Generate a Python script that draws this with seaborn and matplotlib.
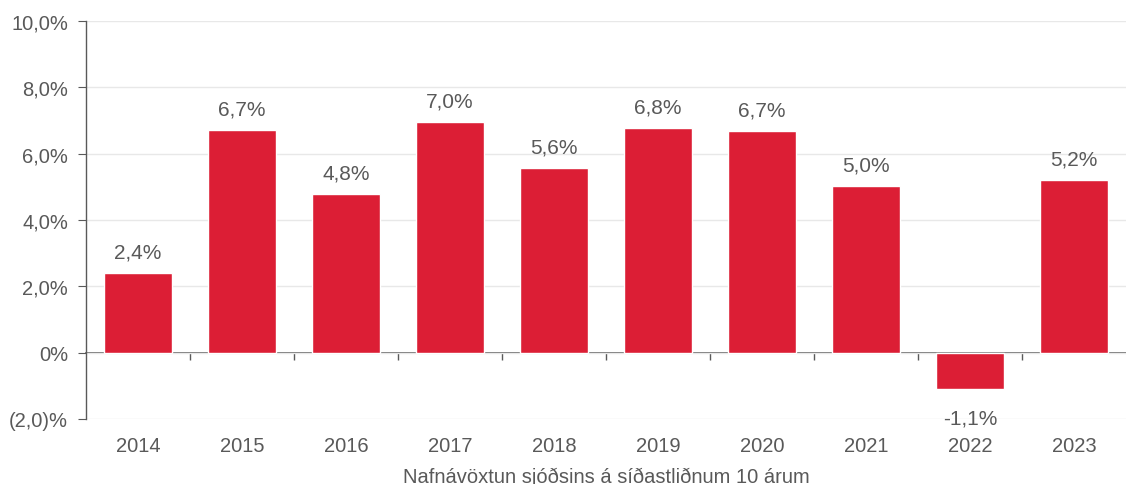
import matplotlib
matplotlib.use("Agg")
import matplotlib.pyplot as plt
import seaborn as sns
import pandas as pd
from matplotlib.ticker import FuncFormatter

years = ["2014", "2015", "2016", "2017", "2018", "2019", "2020", "2021", "2022", "2023"]
returns = [2.41, 6.72, 4.79, 6.96, 5.58, 6.78, 6.69, 5.03, -1.11, 5.21]
xlabel = "Nafnávöxtun sjóðsins á síðastliðnum 10 árum"

sns.set_style("white")
plt.rcParams['font.family'] = ['Liberation Sans', 'DejaVu Sans']

GRAY = "#595959"
RED = "#DC1E35"
FS = 14.5

df = pd.DataFrame({"year": years, "ret": returns})

fig = plt.figure(figsize=(11.26, 4.85), dpi=100)
ax = fig.add_axes([86/1126, 1-420/485, 1-86/1126, (420-22)/485])

sns.barplot(data=df, x="year", y="ret", color=RED, saturation=1, width=0.655, ax=ax, zorder=3)

ymin, ymax = -2, 10
ax.set_ylim(ymin, ymax)
ax.set_xlim(-0.5, len(years) - 0.5)
ax.set_yticks(range(-2, 11, 2))

def yfmt(v, pos):
    if abs(v) < 1e-9:
        return "0%"
    s = f"{abs(v):.1f}".replace(".", ",")
    return f"({s})%" if v < 0 else f"{s}%"

ax.yaxis.set_major_formatter(FuncFormatter(yfmt))
ax.grid(axis="y", color="#e8e8e8", linewidth=1, zorder=0)
ax.grid(axis="x", visible=False)

for s in ["top", "right", "bottom"]:
    ax.spines[s].set_visible(False)
ax.spines["left"].set_color(GRAY)
ax.spines["left"].set_linewidth(1)

ax.tick_params(axis="y", left=True, length=6, color=GRAY, labelcolor=GRAY, labelsize=FS, pad=7)
ax.tick_params(axis="x", bottom=False, length=0, labelcolor=GRAY, labelsize=FS, pad=12)
ax.set_xlabel(xlabel, color=GRAY, fontsize=FS, labelpad=9)
ax.set_ylabel("")

# zero axis line with boundary ticks
zero_frac = (0 - ymin) / (ymax - ymin)
sec = ax.secondary_xaxis(zero_frac)
sec.set_xticks([i + 0.5 for i in range(len(years) - 1)])
sec.set_xticklabels([])
sec.tick_params(axis="x", direction="out", length=5, color=GRAY, width=1)
sec.spines["bottom"].set_color(GRAY)
sec.spines["bottom"].set_linewidth(1.2)
for s in ["top", "left", "right"]:
    sec.spines[s].set_visible(False)

pos_labels = [f"{v:.1f}".replace(".", ",") + "%" if v >= 0 else "" for v in returns]
neg_labels = [f"{v:.1f}".replace(".", ",") + "%" if v < 0 else "" for v in returns]
ax.bar_label(ax.containers[0], labels=pos_labels, padding=8, color=GRAY, fontsize=15)
ax.bar_label(ax.containers[0], labels=neg_labels, padding=14, color=GRAY, fontsize=15)

fig.savefig("out.png", dpi=100)
